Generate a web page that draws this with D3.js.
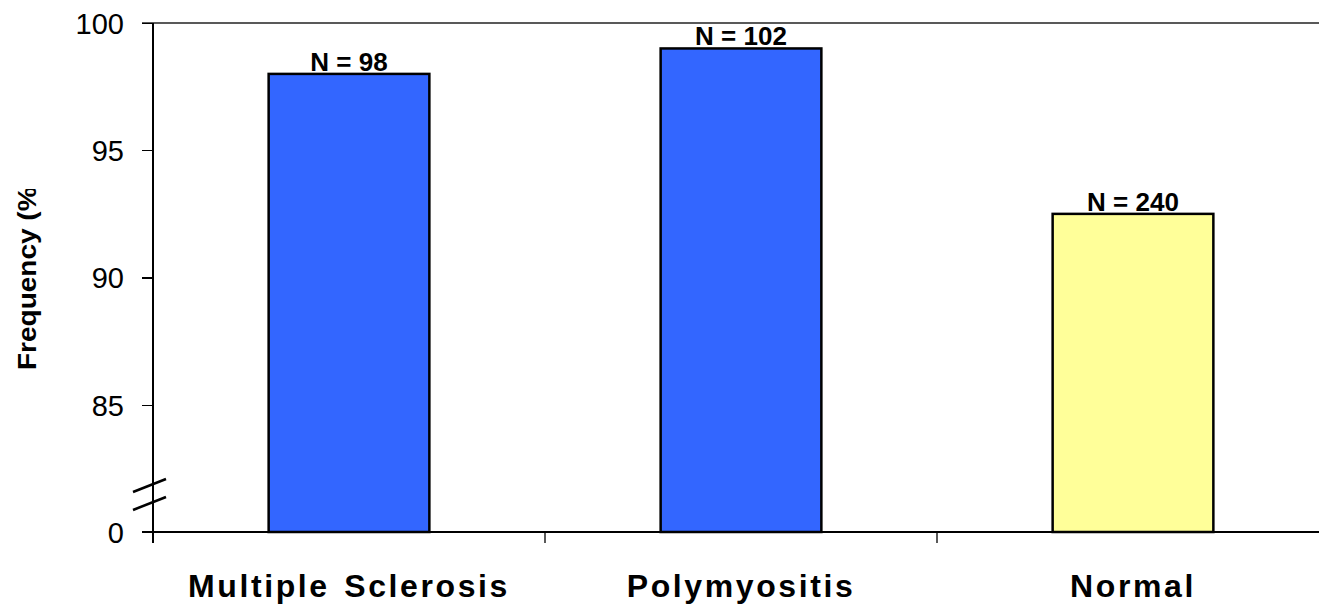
<!DOCTYPE html>
<html lang="en">
<head>
    <meta charset="UTF-8">
    <title>Frequency</title>
    <script src="https://d3js.org/d3.v7.min.js"></script>
    <style>
        body { margin: 0; background: #fff; }
        text { font-family: Arial, "Liberation Sans", sans-serif; fill: #000; }
        .bar { stroke: #000; stroke-width: 2.5; }
        .axis path, .axis line { stroke: #000; stroke-width: 1.3; shape-rendering: crispEdges; }
    </style>
</head>
<body>
    <script>
        // data
        var categories = ["Multiple Sclerosis", "Polymyositis", "Normal"];
        var frequencies = [98, 99, 92.5];
        var counts = ["N = 98", "N = 102", "N = 240"];
        var barColors = ["#3366ff", "#3366ff", "#ffff99"];
        var yTicks = [0, 85, 90, 95, 100];

        var width = 1319, height = 606;
        var plotLeft = 153, plotRight = 1329, plotTop = 23, plotBottom = 532;

        var svg = d3.select("body").append("svg")
            .attr("width", width).attr("height", height);

        var x = d3.scaleBand().domain(categories)
            .range([plotLeft, plotRight]).paddingInner(0.59).paddingOuter(0.295);

        // broken axis: 0 sits one step below 85
        var step = (plotBottom - plotTop) / 4;
        var y = d3.scaleLinear().domain([0, 85, 100])
            .range([plotBottom, plotBottom - step, plotTop]);

        // top border line
        svg.append("line")
            .attr("x1", plotLeft - 11).attr("x2", width)
            .attr("y1", y(100)).attr("y2", y(100))
            .attr("stroke", "#222").attr("stroke-width", 1.3);

        // y axis
        var yAxis = svg.append("g").attr("class", "axis")
            .attr("transform", "translate(" + plotLeft + ",0)")
            .call(d3.axisLeft(y).tickValues(yTicks).tickSize(11).tickSizeOuter(0)
                .tickFormat(function(d) { return d; }));
        yAxis.select(".domain").attr("d", "M0," + plotTop + "V" + (plotBottom + 11));
        yAxis.selectAll("text").attr("font-size", "29px").attr("x", -29).attr("dy", "0.36em");

        // x axis
        var xAxis = svg.append("g").attr("class", "axis")
            .attr("transform", "translate(0," + plotBottom + ")")
            .call(d3.axisBottom(x).tickSize(0).tickSizeOuter(0));
        xAxis.select(".domain").attr("d", "M" + (plotLeft - 11) + ",0H" + width);
        xAxis.selectAll(".tick line").remove();
        xAxis.selectAll("text")
            .attr("font-size", "32px").attr("font-weight", "bold")
            .attr("letter-spacing", "2.6px").attr("word-spacing", "3px")
            .attr("y", 65).attr("dy", 0);

        // x ticks between categories
        var bounds = [plotLeft].concat(categories.slice(1).map(function(c) {
            return x(c) - x.step() * x.paddingInner() / 2;
        }));
        svg.append("g").selectAll("line").data(bounds).enter().append("line")
            .attr("x1", function(d) { return d; }).attr("x2", function(d) { return d; })
            .attr("y1", plotBottom).attr("y2", plotBottom + 11)
            .attr("stroke", "#000").attr("stroke-width", 1.3);

        // axis break marks
        var brk = svg.append("g").attr("stroke", "#000").attr("stroke-width", 2.5);
        [492, 510].forEach(function(yy) {
            brk.append("line")
                .attr("x1", plotLeft - 20).attr("y1", yy)
                .attr("x2", plotLeft + 13).attr("y2", yy - 13);
        });

        // bars
        var data = categories.map(function(c, i) {
            return { cat: c, value: frequencies[i], n: counts[i], color: barColors[i] };
        });

        svg.append("g").selectAll("rect").data(data).enter().append("rect")
            .attr("class", "bar")
            .attr("x", function(d) { return x(d.cat); })
            .attr("y", function(d) { return y(d.value); })
            .attr("width", x.bandwidth())
            .attr("height", function(d) { return y(0) - y(d.value); })
            .attr("fill", function(d) { return d.color; });

        svg.append("g").selectAll("text").data(data).enter().append("text")
            .attr("x", function(d) { return x(d.cat) + x.bandwidth() / 2; })
            .attr("y", function(d) { return y(d.value) - 3; })
            .attr("text-anchor", "middle")
            .attr("font-size", "26px").attr("font-weight", "bold")
            .text(function(d) { return d.n; });

        // y title, stretched and clipped at top like the original
        svg.append("clipPath").attr("id", "tclip")
            .append("rect").attr("x", 0).attr("y", 189).attr("width", 80).attr("height", 300);
        svg.append("g").attr("clip-path", "url(#tclip)")
            .append("text")
            .attr("transform", "translate(36,370) rotate(-90) scale(1.12,1)")
            .attr("font-size", "25px").attr("font-weight", "bold")
            .text("Frequency (%)");
    </script>
</body>
</html>
